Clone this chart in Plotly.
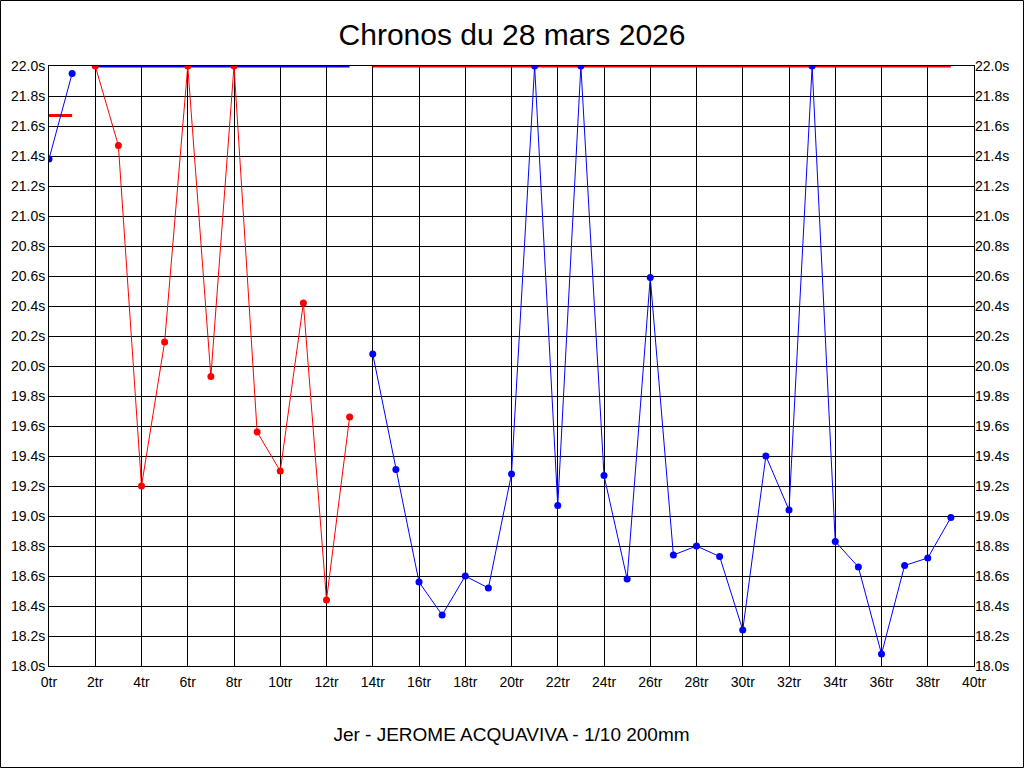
import plotly.graph_objects as go

# --- data ---
laps_a = [0, 1]
times_a = [21.38, 21.95]
avg_a = 21.67

laps_b = [2, 3, 4, 5, 6, 7, 8, 9, 10, 11, 12, 13]
times_b = [22.0, 21.47, 19.20, 20.16, 22.0, 19.93, 22.0, 19.56, 19.30, 20.42, 18.44, 19.66]
avg_b = 22.0

laps_c = list(range(14, 40))
times_c = [20.08, 19.31, 18.56, 18.34, 18.60, 18.52, 19.28, 22.0, 19.07, 22.0,
           19.27, 18.58, 20.59, 18.74, 18.80, 18.73, 18.24, 19.40, 19.04, 22.0,
           18.83, 18.66, 18.08, 18.67, 18.72, 18.99]
avg_c = 22.0

title_text = "Chronos du 28 mars 2026"
xtitle_text = "Jer - JEROME ACQUAVIVA - 1/10 200mm"

BLUE = "#0000ff"
RED = "#ff0000"

fig = go.Figure()

# average lines (drawn first)
for laps, avg, col in [(laps_a, avg_a, RED), (laps_b, avg_b, BLUE), (laps_c, avg_c, RED)]:
    fig.add_trace(go.Scatter(x=[laps[0], laps[-1]], y=[avg, avg], mode="lines",
                             line=dict(color=col, width=3), cliponaxis=False,
                             hoverinfo="skip", showlegend=False))

# lap time series
for laps, times, col in [(laps_a, times_a, BLUE), (laps_b, times_b, RED), (laps_c, times_c, BLUE)]:
    fig.add_trace(go.Scatter(x=laps, y=times, mode="lines+markers",
                             line=dict(color=col, width=1),
                             marker=dict(color=col, size=7),
                             showlegend=False))

# invisible trace to carry the right axis
fig.add_trace(go.Scatter(x=[0], y=[20], yaxis="y2", mode="markers",
                         marker=dict(opacity=0), hoverinfo="skip", showlegend=False))

FONT = "Liberation Sans, Arial, sans-serif"
tickfont = dict(family=FONT, size=14, color="black")

fig.update_layout(
    width=1024, height=768,
    margin=dict(l=49, r=50, t=66, b=102),
    paper_bgcolor="white", plot_bgcolor="white",
    title=dict(text=title_text, x=0.5, xanchor="center", y=1 - 34 / 768, yanchor="middle",
               font=dict(family=FONT, size=30, color="black")),
    xaxis=dict(range=[0, 40], dtick=2, tick0=0, ticksuffix="tr",
               showgrid=True, gridcolor="black", gridwidth=1,
               showline=True, linecolor="black", linewidth=1, mirror=True,
               zeroline=False, ticks="", tickfont=tickfont, ticklabelstandoff=3,
               title=dict(text=xtitle_text, standoff=38,
                          font=dict(family=FONT, size=19, color="black"))),
    yaxis=dict(range=[18, 22], dtick=0.2, tick0=18, tickformat=".1f", ticksuffix="s",
               showgrid=True, gridcolor="black", gridwidth=1,
               showline=True, linecolor="black", linewidth=1, mirror=True,
               zeroline=False, ticks="", tickfont=tickfont),
    yaxis2=dict(range=[18, 22], dtick=0.2, tick0=18, tickformat=".1f", ticksuffix="s",
                overlaying="y", side="right", showgrid=False, zeroline=False,
                ticks="", tickfont=tickfont),
    shapes=[dict(type="rect", xref="paper", yref="paper",
                 x0=-48.5 / 925, x1=974.5 / 925, y0=(666 - 767.5) / 600, y1=(666 - 0.5) / 600,
                 line=dict(color="black", width=1), fillcolor="rgba(0,0,0,0)", layer="below")],
)

fig.write_html("out.html", config={"displayModeBar": False},
               post_script="document.body.style.margin='0';")
